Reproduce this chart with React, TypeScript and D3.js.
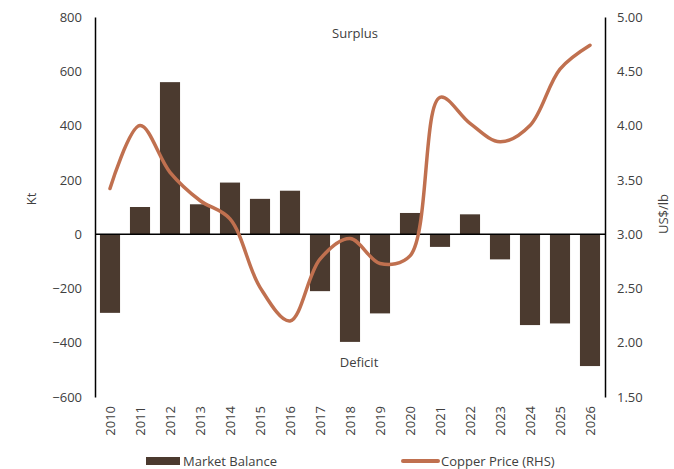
import React, { useRef, useEffect } from 'react';
import * as d3 from 'd3';

const years = ['2010', '2011', '2012', '2013', '2014', '2015', '2016', '2017', '2018',
  '2019', '2020', '2021', '2022', '2023', '2024', '2025', '2026'];
const marketBalance = [-290, 100, 560, 110, 190, 130, 160, -210, -397, -292, 78, -47, 73, -93, -335, -329, -486];
const copperPrice = [3.42, 4.0, 3.57, 3.31, 3.14, 2.51, 2.2, 2.77, 2.96, 2.73, 2.8, 4.26, 4.02, 3.85, 4.0, 4.52, 4.74];
const leftTicks = [-600, -400, -200, 0, 200, 400, 600, 800];
const rightTicks = [1.5, 2.0, 2.5, 3.0, 3.5, 4.0, 4.5, 5.0];

const barColor = '#4b3a2f';
const lineColor = '#c0704f';
const textColor = '#404040';
const font = '"Open Sans", sans-serif';

const Chart = () => {
  const ref = useRef<SVGSVGElement | null>(null);

  useEffect(() => {
    const width = 674;
    const height = 469;
    const m = { top: 17, right: 69, bottom: 72, left: 95 };
    const innerH = height - m.top - m.bottom;

    const svg = d3.select(ref.current);
    svg.selectAll('*').remove();

    const x = d3.scaleBand().domain(years).range([m.left, width - m.right]).paddingInner(0.33).paddingOuter(0.165);
    const yL = d3.scaleLinear().domain([-600, 800]).range([m.top + innerH, m.top]);
    const yR = d3.scaleLinear().domain([1.5, 5]).range([m.top + innerH, m.top]);

    // bars
    svg.append('g')
      .selectAll('rect')
      .data(marketBalance)
      .enter()
      .append('rect')
      .attr('x', (d, i) => x(years[i])!)
      .attr('width', x.bandwidth())
      .attr('y', d => yL(Math.max(0, d)))
      .attr('height', d => Math.abs(yL(d) - yL(0)))
      .attr('fill', barColor);

    // left axis
    const gl = svg.append('g')
      .attr('transform', `translate(${m.left},0)`)
      .call(d3.axisLeft(yL).tickValues(leftTicks).tickSize(0).tickPadding(13).tickFormat(d3.format('d')));
    gl.select('.domain').attr('stroke', '#000').attr('stroke-width', 1.5);

    // right axis
    const gr = svg.append('g')
      .attr('transform', `translate(${width - m.right},0)`)
      .call(d3.axisRight(yR).tickValues(rightTicks).tickSize(0).tickPadding(12).tickFormat(d3.format('.2f')));
    gr.select('.domain').attr('stroke', '#000').attr('stroke-width', 1.5);

    [gl, gr].forEach(g => {
      g.selectAll('text').attr('font-family', font).attr('font-size', 13).attr('fill', textColor);
    });

    // zero line
    svg.append('line')
      .attr('x1', m.left).attr('x2', width - m.right)
      .attr('y1', yL(0)).attr('y2', yL(0))
      .attr('stroke', '#000').attr('stroke-width', 1.5);

    // x labels
    svg.append('g')
      .selectAll('text')
      .data(years)
      .enter()
      .append('text')
      .attr('transform', d => `translate(${x(d)! + x.bandwidth() / 2},${m.top + innerH + 9}) rotate(-90)`)
      .attr('text-anchor', 'end')
      .attr('dy', '0.35em')
      .attr('font-family', font)
      .attr('font-size', 13)
      .attr('fill', textColor)
      .text(d => d);

    // copper price line
    const line = d3.line<number>()
      .x((d, i) => x(years[i])! + x.bandwidth() / 2)
      .y(d => yR(d))
      .curve(d3.curveCatmullRom.alpha(0.5));
    svg.append('path')
      .datum(copperPrice)
      .attr('d', line)
      .attr('fill', 'none')
      .attr('stroke', lineColor)
      .attr('stroke-width', 3.5)
      .attr('stroke-linecap', 'round');

    // annotations
    const label = (t: string, tx: number, ty: number, rot = 0) => svg.append('text')
      .attr('transform', `translate(${tx},${ty}) rotate(${rot})`)
      .attr('text-anchor', 'middle')
      .attr('font-family', font)
      .attr('font-size', 13)
      .attr('fill', textColor)
      .text(t);
    label('Surplus', 355, 38);
    label('Deficit', 359, 367);
    label('Kt', 36, 199, -90);
    label('US$/lb', 668, 214, -90);

    // legend
    const lg = svg.append('g');
    lg.append('rect').attr('x', 146).attr('y', 457).attr('width', 34).attr('height', 8).attr('fill', barColor);
    lg.append('text').attr('x', 183).attr('y', 466).attr('font-family', font).attr('font-size', 13)
      .attr('fill', textColor).text('Market Balance');
    lg.append('line').attr('x1', 403).attr('x2', 438).attr('y1', 461).attr('y2', 461)
      .attr('stroke', lineColor).attr('stroke-width', 4).attr('stroke-linecap', 'round');
    lg.append('text').attr('x', 441).attr('y', 466).attr('font-family', font).attr('font-size', 13)
      .attr('fill', textColor).text('Copper Price (RHS)');
  }, []);

  return (
    <svg
      ref={ref}
      width={674}
      height={469}
      style={{ position: 'fixed', left: 0, top: 0, display: 'block', background: '#fff' }}
    />
  );
};

export default function App() {
  return <Chart />;
}
